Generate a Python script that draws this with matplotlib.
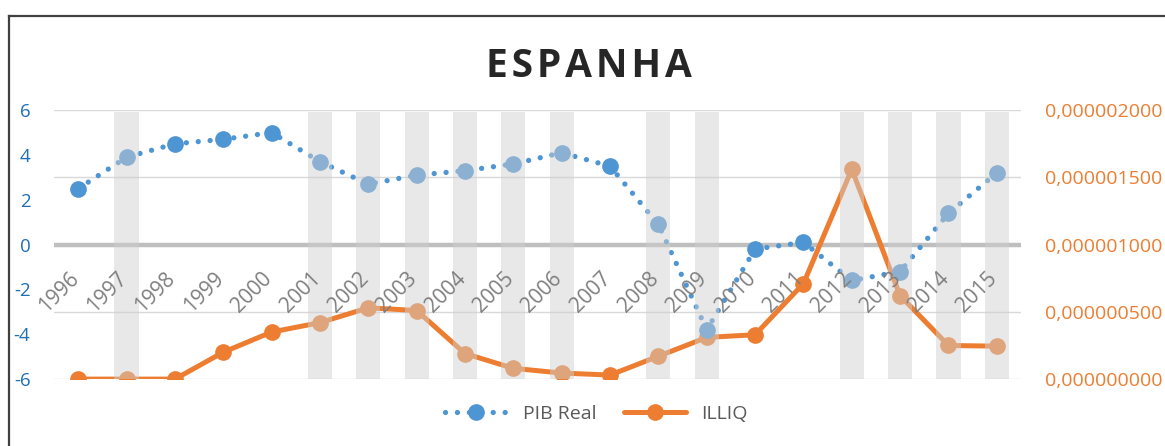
import matplotlib
matplotlib.use("Agg")
import matplotlib.pyplot as plt
from matplotlib.ticker import FuncFormatter
from matplotlib.transforms import blended_transform_factory

plt.rcParams['font.family'] = ['Open Sans', 'DejaVu Sans']

# Dados
anos = [1996, 1997, 1998, 1999, 2000, 2001, 2002, 2003, 2004, 2005,
        2006, 2007, 2008, 2009, 2010, 2011, 2012, 2013, 2014, 2015]
pib_real = [2.5, 3.9, 4.5, 4.7, 5.0, 3.7, 2.7, 3.1, 3.3, 3.6,
            4.1, 3.5, 0.9, -3.8, -0.2, 0.1, -1.6, -1.2, 1.4, 3.2]
illiq = [0.0, 0.0, 0.0, 0.20e-6, 0.35e-6, 0.42e-6, 0.53e-6, 0.51e-6, 0.19e-6, 0.08e-6,
         0.045e-6, 0.03e-6, 0.17e-6, 0.31e-6, 0.33e-6, 0.71e-6, 1.56e-6, 0.62e-6, 0.25e-6, 0.245e-6]
anos_faixa = [1997, 2001, 2002, 2003, 2004, 2005, 2006, 2008, 2009, 2012, 2013, 2014, 2015]

AZUL = '#4E95D3'
LARANJA = '#ED7D31'
CINZA_TXT = '#7F7F7F'

fig = plt.figure(figsize=(11.65, 4.46), dpi=100)

# moldura (so esquerda e topo aparecem)
fig.add_artist(plt.Line2D([0.0075, 0.0075], [0, 0.964], color='#404040', lw=1.6))
fig.add_artist(plt.Line2D([0.0075, 1.0], [0.964, 0.964], color='#404040', lw=1.6))

ax2 = fig.add_axes([0.0464, 0.150, 0.830, 0.603])
ax = ax2.twinx()
ax.set_zorder(ax2.get_zorder() + 1)
ax.patch.set_visible(False)

x = list(range(len(anos)))
pos_faixa = [anos.index(a) for a in anos_faixa]

# eixo secundario (ILLIQ) - fica por baixo
ax2.set_ylim(0, 2e-6)
ax2.set_yticks([0, 0.5e-6, 1e-6, 1.5e-6, 2e-6])
ax2.yaxis.grid(True, color='#D9D9D9', lw=1.0)
ax2.set_axisbelow(True)
zero_tr = blended_transform_factory(ax2.transAxes, ax.transData)
ax2.plot([0, 1], [0, 0], transform=zero_tr, color='#BFBFBF', lw=3.2, zorder=1)
ax2.plot(x, illiq, color=LARANJA, lw=3.6, marker='o', markersize=11,
         solid_capstyle='round', zorder=3)

# eixo principal (PIB Real)
ax.set_ylim(-6, 6)
ax.set_yticks([-6, -4, -2, 0, 2, 4, 6])
ax.plot(x, pib_real, color=AZUL, lw=3.8, linestyle=(0, (0.01, 2.25)),
        dash_capstyle='round', marker='o', markersize=11, zorder=3)
ax.bar(pos_faixa, [11.9] * len(pos_faixa), bottom=-6, width=0.5,
       color='#CFCFCF', alpha=0.48, lw=0, zorder=4)

ax.set_xlim(-0.5, len(anos) - 0.5)

# rotulos do eixo x junto da linha do zero
for i, a in enumerate(anos):
    ax.text(i + 0.1, -1.05, str(a), rotation=45, ha='right', va='top',
            fontsize=15, color=CINZA_TXT, zorder=5)
ax2.set_xticks([])

# eixos: esquerda no lado esquerdo, direita no lado direito
ax.yaxis.tick_left()
ax2.yaxis.tick_right()
ax.tick_params(axis='y', length=0, pad=17, labelsize=13.5, labelcolor='#1F6FB5')
ax2.tick_params(axis='y', length=0, pad=17, labelsize=14, labelcolor=LARANJA)
ax.yaxis.set_major_formatter(FuncFormatter(lambda v, p: f"{v:.0f}"))
ax2.yaxis.set_major_formatter(
    FuncFormatter(lambda v, p: f"{v:.9f}".replace('.', ',')))
for a in (ax, ax2):
    for s in a.spines.values():
        s.set_visible(False)

fig.text(0.5056, 0.852, '\u200a'.join("ESPANHA"), ha='center', va='center',
         fontsize=28, fontweight='bold', color='#262626')

leg = fig.legend(
    handles=[ax.lines[0], ax2.lines[1]], labels=['PIB Real', 'ILLIQ'],
    loc='center', bbox_to_anchor=(0.512, 0.072), ncol=2, frameon=False,
    fontsize=14, handlelength=3.2, columnspacing=1.4, numpoints=1)
for t in leg.get_texts():
    t.set_color('#595959')

fig.savefig('out.png', dpi=100)
